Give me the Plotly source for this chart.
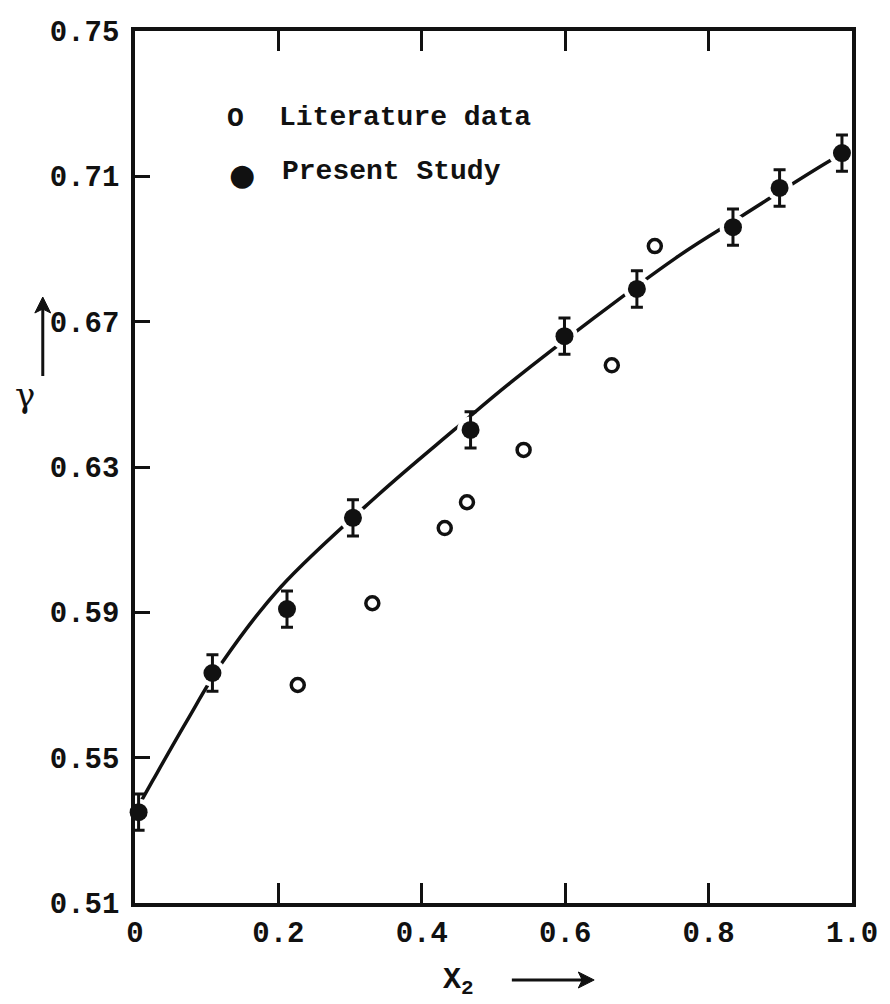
import plotly.graph_objects as go

# ---- data ----
present_x = [0.005, 0.108, 0.212, 0.304, 0.468, 0.599, 0.700, 0.834, 0.899, 0.986]
present_y = [0.535, 0.5733, 0.5909, 0.616, 0.6402, 0.666, 0.679, 0.696, 0.7068, 0.7164]
present_err = [0.005, 0.005, 0.005, 0.005, 0.005, 0.005, 0.005, 0.005, 0.005, 0.005]

lit_x = [0.227, 0.331, 0.432, 0.463, 0.542, 0.665, 0.725]
lit_y = [0.570, 0.5925, 0.6132, 0.6203, 0.6347, 0.658, 0.6908]

curve_x = [0.0, 0.025, 0.072, 0.122, 0.203, 0.339, 0.445, 0.528, 0.754, 0.848, 0.971, 1.0]
curve_y = [0.535, 0.5438, 0.5600, 0.5763, 0.5969, 0.6223, 0.6402, 0.6539, 0.6875, 0.6993,
           0.7145, 0.7175]

x_ticks = [0, 0.2, 0.4, 0.6, 0.8, 1.0]
x_ticktext = ["0", "0.2", "0.4", "0.6", "0.8", "1.0"]
y_ticks = [0.51, 0.55, 0.59, 0.63, 0.67, 0.71, 0.75]
y_ticktext = ["0.51", "0.55", "0.59", "0.63", "0.67", "0.71", "0.75"]

legend_labels = ["Literature data", "Present Study"]

FONT = "Liberation Mono"
BLACK = "#111111"

fig = go.Figure()

# fitted curve
fig.add_trace(go.Scatter(
    x=curve_x, y=curve_y, mode="lines",
    line=dict(color=BLACK, width=3.5, shape="spline", smoothing=1.0),
    showlegend=False, hoverinfo="skip", cliponaxis=False))

# white halos that break the curve around the measured points
fig.add_trace(go.Scatter(
    x=present_x, y=present_y, mode="markers",
    marker=dict(color="white", size=27, line=dict(width=0)),
    showlegend=False, hoverinfo="skip", cliponaxis=False))

# literature data (open circles)
fig.add_trace(go.Scatter(
    x=lit_x, y=lit_y, mode="markers", name=legend_labels[0],
    marker=dict(symbol="circle-open", size=13, color=BLACK, line=dict(width=3.5)),
    showlegend=False))

# present study (filled with error bars)
fig.add_trace(go.Scatter(
    x=present_x, y=present_y, mode="markers", name=legend_labels[1],
    marker=dict(symbol="circle", size=18, color=BLACK),
    error_y=dict(type="data", array=present_err, visible=True,
                 color=BLACK, thickness=3, width=6),
    showlegend=False, cliponaxis=False))

axis_common = dict(
    showgrid=False, zeroline=False, showline=True, linecolor=BLACK, linewidth=3.5,
    ticks="inside", tickcolor=BLACK, tickwidth=3,
    tickfont=dict(family=FONT, size=29, color=BLACK, weight="bold"),
)

fig.update_xaxes(
    range=[0, 1.0], tickvals=x_ticks, ticktext=x_ticktext, ticklen=20,
    mirror="allticks", **axis_common)
fig.update_yaxes(
    range=[0.51, 0.75], tickvals=y_ticks, ticktext=y_ticktext, ticklen=15,
    mirror=True, ticklabelstandoff=6, **axis_common)

annotations = [
    # legend
    dict(text="O", x=236, y=119, font=dict(size=28)),
    dict(text=legend_labels[0], x=407, y=117, font=dict(size=28)),
    dict(text="\u25CF", x=243, y=174, font=dict(size=30, family="DejaVu Sans")),
    dict(text=legend_labels[1], x=394, y=171, font=dict(size=28)),
    # axis labels
    dict(text="X<sub>2</sub>", x=461, y=982, font=dict(size=30)),
    dict(text="\u03B3", x=24, y=395, font=dict(size=34, family="DejaVu Serif", weight="normal")),
]

W, H = 890, 1004
L, R, T, B = 135, 858, 31, 903


def px_to_paper(px, py):
    return (px - L) / (R - L), (B - py) / (B - T)


ann_list = []
for a in annotations:
    xp, yp = px_to_paper(a["x"], a["y"])
    f = dict(family=FONT, color=BLACK, weight="bold")
    f.update(a["font"])
    ann_list.append(dict(text=a["text"], x=xp, y=yp, xref="paper", yref="paper",
                         xanchor="center", yanchor="middle", showarrow=False, font=f))

# arrows next to the axis labels, drawn as decoration shapes
shapes = []


def add_line(p0, p1):
    x0, y0 = px_to_paper(*p0)
    x1, y1 = px_to_paper(*p1)
    shapes.append(dict(type="line", xref="paper", yref="paper", x0=x0, y0=y0, x1=x1, y1=y1,
                       line=dict(color=BLACK, width=3)))


def add_head(pts):
    coords = [px_to_paper(*p) for p in pts]
    path = "M " + " L ".join(f"{x:.5f},{y:.5f}" for x, y in coords) + " Z"
    shapes.append(dict(type="path", xref="paper", yref="paper", path=path,
                       fillcolor=BLACK, line=dict(color=BLACK, width=1)))


add_line((515, 980), (588, 980))
add_head([(598, 980), (582, 972), (586, 980), (582, 988)])
add_line((42, 376), (42, 308))
add_head([(42, 297), (34, 313), (42, 309), (50, 313)])

fig.update_layout(
    width=W, height=H,
    margin=dict(l=L, r=W - R, t=T, b=H - B),
    paper_bgcolor="white", plot_bgcolor="white",
    annotations=ann_list,
    shapes=shapes,
    showlegend=False,
)

fig.write_html("out.html")
